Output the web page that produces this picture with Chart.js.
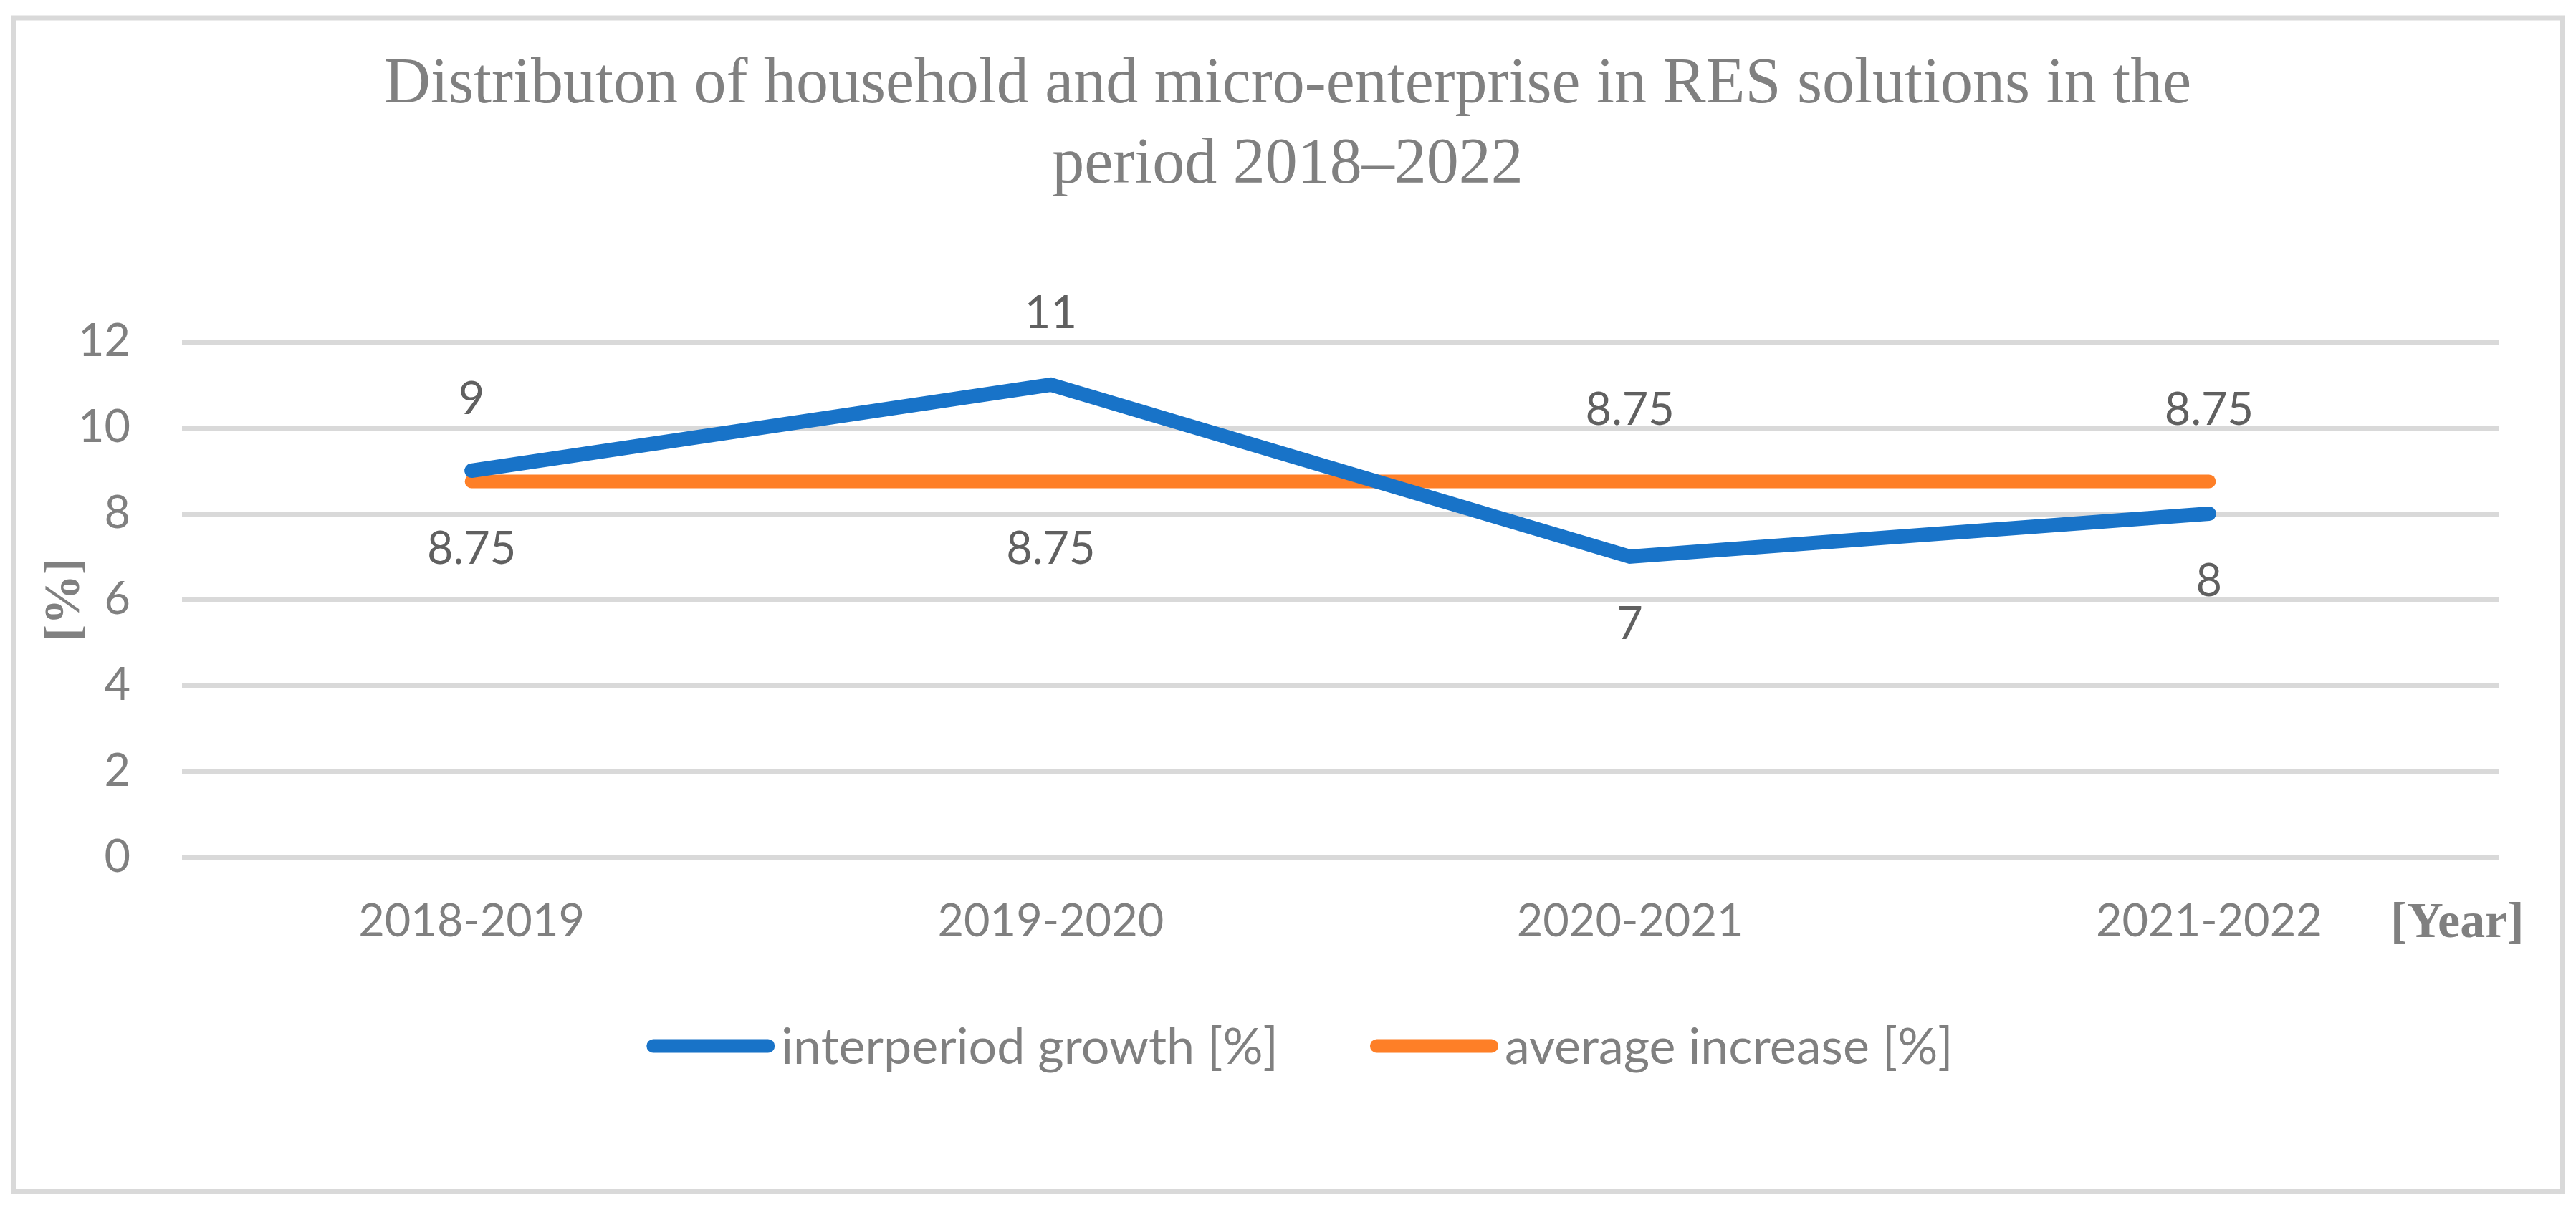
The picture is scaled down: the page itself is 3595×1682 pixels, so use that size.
<!DOCTYPE html>
<html>
<head>
<meta charset="utf-8">
<script src="https://cdn.jsdelivr.net/npm/chart.js@4.4.1/dist/chart.umd.min.js"></script>
<style>
  html, body { margin: 0; padding: 0; background: #ffffff; }
  #wrap { width: 3595px; height: 1682px; }
</style>
</head>
<body>
<div id="wrap"><canvas id="chart" width="3595" height="1682"></canvas></div>
<script>
const categories = ["2018-2019", "2019-2020", "2020-2021", "2021-2022"];
const growth = [9, 11, 7, 8];
const average = [8.75, 8.75, 8.75, 8.75];
const seriesNames = ["interperiod growth [%]", "average increase [%]"];
const yMin = 0;
const yMax = 12;
const yStep = 2;
const titleLines = ["Distributon of household and micro-enterprise in RES solutions in the", "period 2018\u20132022"];
const yTitle = "[%]";
const xTitle = "[Year]";

const gray = "#808080";
const labelGray = "#606060";
const gridGray = "#d9d9d9";
const sans = "Lato, 'Open Sans', sans-serif";
const serif = "'Liberation Serif', 'DejaVu Serif', serif";

// frame, titles, legend and value labels
const decor = {
	id: "decor",
	beforeDraw(chart) {
		const c = chart.ctx;
		c.save();
		c.fillStyle = "#ffffff";
		c.fillRect(0, 0, chart.width, chart.height);
		c.strokeStyle = gridGray;
		c.lineWidth = 7;
		c.strokeRect(19.5, 25, 3557, 1637.5);
		c.restore();
	},
	afterDatasetsDraw(chart) {
		const c = chart.ctx;
		c.save();

		// title
		c.fillStyle = gray;
		c.font = "90px " + serif;
		c.textAlign = "center";
		c.textBaseline = "alphabetic";
		c.fillText(titleLines[0], 1797, 143);
		c.fillText(titleLines[1], 1797, 255);

		// axis titles
		c.font = "bold 70px " + serif;
		c.textAlign = "left";
		c.fillText(xTitle, 3336, 1308);
		c.save();
		c.translate(110, 837);
		c.rotate(-Math.PI / 2);
		c.textAlign = "center";
		c.fillText(yTitle, 0, 0);
		c.restore();

		// value labels: the higher series above its point, the lower one below
		const m0 = chart.getDatasetMeta(0).data;
		const m1 = chart.getDatasetMeta(1).data;
		const ds = chart.data.datasets;
		c.font = "63px " + sans;
		c.fillStyle = labelGray;
		c.textAlign = "center";
		c.textBaseline = "alphabetic";
		for (let i = 0; i < categories.length; i++) {
			const a = ds[0].data[i];
			const b = ds[1].data[i];
			const hi = a >= b ? [m0[i], a] : [m1[i], b];
			const lo = a >= b ? [m1[i], b] : [m0[i], a];
			c.fillText(String(hi[1]), hi[0].x, hi[0].y - 79);
			c.fillText(String(lo[1]), lo[0].x, lo[0].y + 115);
		}

		// legend
		c.font = "70px " + sans;
		const sw = 179, gapText = 9, gapItem = 128;
		const widths = ds.map(d => sw + gapText + c.measureText(d.label).width);
		const total = widths.reduce((s, w) => s + w, 0) + gapItem * (ds.length - 1);
		let x = 1814 - total / 2;
		const ly = 1460;
		ds.forEach((d, k) => {
			c.strokeStyle = d.borderColor;
			c.lineWidth = 19;
			c.lineCap = "round";
			c.beginPath();
			c.moveTo(x + 9.5, ly);
			c.lineTo(x + sw - 9.5, ly);
			c.stroke();
			c.fillStyle = gray;
			c.textAlign = "left";
			c.textBaseline = "middle";
			c.fillText(d.label, x + sw + gapText, ly + 2);
			x += widths[k] + gapItem;
		});

		c.restore();
	}
};

new Chart(document.getElementById("chart"), {
	type: "line",
	data: {
		labels: categories,
		datasets: [
			{
				label: seriesNames[0],
				data: growth,
				borderColor: "#1873c8",
				backgroundColor: "#1873c8",
				borderWidth: 20,
				borderCapStyle: "round",
				borderJoinStyle: "miter",
				pointRadius: 0,
				tension: 0,
				fill: false
			},
			{
				label: seriesNames[1],
				data: average,
				borderColor: "#fe7f27",
				backgroundColor: "#fe7f27",
				borderWidth: 19,
				borderCapStyle: "round",
				borderJoinStyle: "miter",
				pointRadius: 0,
				tension: 0,
				fill: false
			}
		]
	},
	options: {
		responsive: false,
		animation: false,
		devicePixelRatio: 1,
		layout: { padding: { left: 0, top: 477, right: 108, bottom: 0 } },
		plugins: {
			legend: { display: false },
			title: { display: false },
			tooltip: { enabled: false }
		},
		scales: {
			x: {
				offset: true,
				grid: { display: false, drawTicks: false },
				border: { display: false },
				ticks: {
					color: gray,
					font: { family: sans, size: 63 },
					padding: 52,
					maxRotation: 0
				},
				afterFit(scale) { scale.height = 485; }
			},
			y: {
				min: yMin,
				max: yMax,
				grid: { color: gridGray, lineWidth: 7, drawTicks: false },
				border: { display: false },
				ticks: {
					stepSize: yStep,
					color: gray,
					font: { family: sans, size: 63 },
					padding: 72
				},
				afterFit(scale) { scale.width = 254; }
			}
		}
	},
	plugins: [decor]
});
</script>
</body>
</html>
